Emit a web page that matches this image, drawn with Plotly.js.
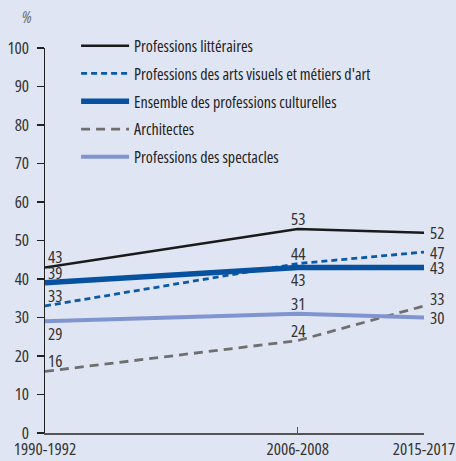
<!DOCTYPE html>
<html><head><meta charset="utf-8">
<script src="https://cdn.plot.ly/plotly-3.0.1.min.js"></script>
<style>html,body{margin:0;padding:0;background:#e0e5f3} text{font-stretch:condensed !important}</style>
</head><body><div id="chart" style="width:456px;height:461px"></div>
<script>
const periods = ["1990-1992", "2006-2008", "2015-2017"];
const periodPos = [0, 2, 3];
const seriesNames = ["Professions littéraires", "Professions des arts visuels et métiers d'art", "Ensemble des professions culturelles", "Architectes", "Professions des spectacles"];
const litteraires = [43, 53, 52];
const artsVisuels = [33, 44, 47];
const ensemble = [39, 43, 43];
const architectes = [16, 24, 33];
const spectacles = [29, 31, 30];
const seriesValues = [litteraires, artsVisuels, ensemble, architectes, spectacles];

const styles = [
  {color: "#1a1a1a", width: 2.5, dash: "solid"},
  {color: "#0b5aa8", width: 2.8, dash: "6px,4px"},
  {color: "#0652a0", width: 5.5, dash: "solid"},
  {color: "#6f6f6f", width: 2.8, dash: "9px,6px"},
  {color: "#8095cf", width: 4, dash: "solid"}
];
// label placement per series per point: 'a' above, 'b' below, 'r' right
const labelPlace = [
  ["a", "a", "r"],
  ["a", "a", "r"],
  ["a", "b", "r"],
  ["a", "a", "ra"],
  ["b", "a", "r"]
];

const font = "'Open Sans', 'Liberation Sans', sans-serif";
const traces = seriesValues.map((vals, i) => ({
  type: "scatter", mode: "lines", x: periodPos, y: vals, name: seriesNames[i],
  legendgroup: "g" + i,
  line: {color: styles[i].color, width: styles[i].width, dash: styles[i].dash},
  hoverinfo: "skip"
}));

const annotations = [];
seriesValues.forEach((vals, i) => {
  vals.forEach((v, j) => {
    const p = labelPlace[i][j];
    const a = {x: periodPos[j], y: v, text: String(v), showarrow: false,
      font: {family: font, size: 17, color: "#333"}, xref: "x", yref: "y"};
    if (j === 0) { a.xanchor = "left"; a.xshift = 1; }
    else if (p[0] === "r") { a.xanchor = "left"; a.xshift = 4; }
    else { a.xanchor = "center"; }
    if (p === "a") { a.yanchor = "bottom"; a.yshift = -3; }
    else if (p === "b") { a.yanchor = "top"; a.yshift = 1; }
    else if (p === "ra") { a.yanchor = "middle"; a.yshift = 7; }
    else { a.yanchor = "middle"; }
    annotations.push(a);
  });
});
annotations.push({xref: "paper", yref: "paper", x: -0.047, y: 1.046, xanchor: "center", yanchor: "bottom",
  text: "<i>%</i>", showarrow: false, font: {family: font, size: 16, color: "#666"}});

const layout = {
  width: 456, height: 461,
  margin: {l: 45, r: 32, t: 48, b: 28, autoexpand: false},
  paper_bgcolor: "#e0e5f3", plot_bgcolor: "#e0e5f3",
  showlegend: true,
  legend: {x: 0.082, y: 1.05, xanchor: "left", yanchor: "top", bgcolor: "rgba(0,0,0,0)",
    font: {family: font, size: 16, color: "#222"}, itemwidth: 48, tracegroupgap: 4, traceorder: "grouped"},
  xaxis: {type: "linear", range: [0, 3], tickvals: periodPos, ticktext: periods, tickangle: 0,
    showgrid: false, zeroline: false, showline: true, linecolor: "#555", linewidth: 1.5,
    ticks: "inside", ticklen: 6, tickcolor: "#555", tickwidth: 1.5, ticklabeloverflow: "allow",
    tickfont: {family: font, size: 17, color: "#333"}, fixedrange: true},
  yaxis: {range: [0, 100], tickvals: [0,10,20,30,40,50,60,70,80,90,100],
    showgrid: false, zeroline: false, showline: true, linecolor: "#222", linewidth: 1.5,
    ticks: "outside", ticklen: 7, tickcolor: "#222", tickwidth: 1.2,
    ticklabelstandoff: 4,
    tickfont: {family: font, size: 17, color: "#333"}, fixedrange: true},
  annotations: annotations
};
Plotly.newPlot("chart", traces, layout, {displayModeBar: false, staticPlot: true});
</script></body></html>
